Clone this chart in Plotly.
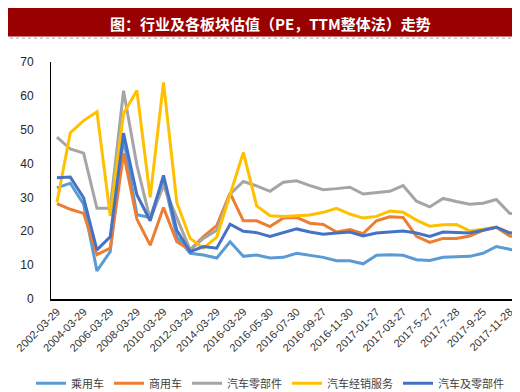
import plotly.graph_objects as go

dates = [
    "2002-03-29", "2003-03-29", "2004-03-29", "2005-03-29", "2006-03-29", "2007-03-29",
    "2008-03-29", "2009-03-29", "2010-03-29", "2011-03-29", "2012-03-29", "2013-03-29",
    "2014-03-29", "2015-03-29", "2016-03-29", "2016-04-29", "2016-05-30", "2016-06-30",
    "2016-07-30", "2016-08-30", "2016-09-27", "2016-10-31", "2016-11-30", "2016-12-30",
    "2017-01-27", "2017-02-27", "2017-03-27", "2017-4-27", "2017-5-27", "2017-6-27",
    "2017-7-28", "2017-8-28", "2017-9-25", "2017-10-25", "2017-11-28", "2017-12-28",
]

passenger = [32.8, 34.2, 28.0, 8.3, 14.0, 47.5, 24.9, 24.1, 35.5, 18.4, 13.5, 13.0,
             12.1, 16.9, 12.6, 13.0, 12.1, 12.3, 13.5, 12.8, 12.3, 11.3, 11.3, 10.4,
             12.9, 13.1, 12.9, 11.6, 11.4, 12.3, 12.4, 12.6, 13.5, 15.5, 14.7, 13.7]
commercial = [28.2, 26.5, 25.3, 13.1, 15.0, 43.0, 23.6, 15.9, 27.0, 16.9, 14.5, 18.4,
              21.7, 31.3, 23.1, 23.1, 21.4, 23.9, 24.1, 22.4, 22.0, 19.8, 20.5, 19.3,
              23.1, 24.3, 24.1, 18.5, 16.7, 17.9, 17.9, 18.6, 20.3, 21.2, 18.6, 18.4]
parts = [47.8, 44.3, 43.1, 26.8, 26.8, 61.5, 39.5, 23.5, 33.5, 24.0, 14.5, 17.9,
         20.3, 31.0, 34.7, 33.4, 31.8, 34.5, 34.9, 33.5, 32.3, 32.6, 33.0, 31.0,
         31.3, 31.8, 33.5, 28.9, 27.2, 29.7, 28.8, 28.0, 28.3, 29.4, 25.3, 25.1]
dealer = [28.6, 49.1, 52.7, 55.3, 24.6, 54.8, 61.6, 30.0, 64.0, 28.5, 17.9, 15.0,
          18.3, 31.0, 43.3, 27.5, 24.6, 24.4, 24.6, 24.8, 25.6, 26.8, 25.1, 23.9,
          24.4, 26.0, 25.6, 23.3, 21.5, 21.9, 22.0, 20.1, 20.6, 21.2, 19.6, 19.5]
auto_all = [35.8, 36.0, 29.9, 14.5, 18.4, 49.0, 30.8, 23.1, 36.5, 20.3, 14.0, 15.5,
            15.0, 22.1, 20.0, 19.6, 18.5, 19.5, 20.7, 19.8, 19.1, 19.5, 19.8, 18.6,
            19.5, 19.8, 20.1, 19.5, 18.5, 19.8, 19.6, 19.5, 20.3, 21.2, 19.5, 19.3]

series_names = ["乘用车", "商用车", "汽车零部件", "汽车经销服务", "汽车及零部件"]
series_values = [passenger, commercial, parts, dealer, auto_all]
colors = ["#5B9BD5", "#ED7D31", "#A5A5A5", "#FFC000", "#4472C4"]

tick_labels = dates[::2]
y_ticks = [0, 10, 20, 30, 40, 50, 60, 70]

fig = go.Figure()
for name, vals, col in zip(series_names, series_values, colors):
    fig.add_trace(go.Scatter(
        x=list(range(len(dates))), y=vals, mode="lines", name=name,
        line=dict(color=col, width=3),
    ))

W, H = 520, 392
L, R, T, B = 43, 2, 54, 96
ph = H - T - B

def py(pixel_y):
    return (H - B - pixel_y) / ph

fig.update_layout(
    width=W, height=H,
    margin=dict(l=L, r=R, t=T, b=B),
    paper_bgcolor="white", plot_bgcolor="white",
    font=dict(family="Liberation Sans, Noto Sans CJK SC", size=12, color="#404040"),
    showlegend=True,
    legend=dict(orientation="h", x=(262 - L) / (W - L - R), xanchor="center",
                y=py(382), yanchor="middle",
                font=dict(family="Noto Sans CJK SC", size=11, color="#404040"),
                itemwidth=30, traceorder="normal", bgcolor="rgba(0,0,0,0)",
                tracegroupgap=0),
    xaxis=dict(
        range=[-0.45, 35.23],
        tickmode="array",
        tickvals=list(range(0, len(dates), 2)),
        ticktext=tick_labels,
        tickangle=-45,
        tickfont=dict(family="Liberation Sans", size=11, color="#333333"),
        showgrid=False, zeroline=False,
        showline=True, linecolor="black", linewidth=2,
        ticks="",
    ),
    yaxis=dict(
        range=[0, 70],
        tickvals=y_ticks,
        tickfont=dict(family="Liberation Sans", size=12, color="#262626"),
        showgrid=False, zeroline=False,
        showline=True, linecolor="black", linewidth=1,
        ticks="", ticklabelstandoff=14,
    ),
    shapes=[
        dict(type="rect", xref="paper", yref="paper",
             x0=-0.2, x1=1.2, y0=py(28), y1=py(-5),
             fillcolor="#990000", line=dict(width=0), layer="above"),
        dict(type="line", xref="paper", yref="paper",
             x0=-0.2, x1=1.2, y0=py(29.5), y1=py(29.5),
             line=dict(color="#9aa0d0", width=1, dash="dot")),
    ],
    annotations=[
        dict(text="<b>图：行业及各板块估值（PE，TTM整体法）走势</b>",
             xref="paper", yref="paper", x=(262 - L) / (W - L - R), y=py(15),
             xanchor="center", yanchor="middle", showarrow=False,
             font=dict(family="Noto Sans CJK SC", size=15, color="white")),
    ],
)

fig.write_html("out.html")
